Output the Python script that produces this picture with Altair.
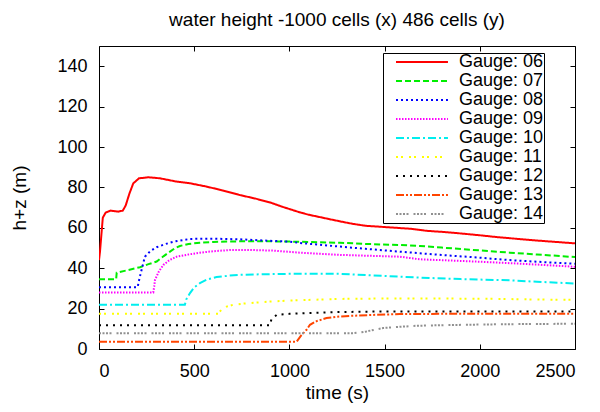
import altair as alt
import pandas as pd

TITLE = "water height -1000 cells (x) 486 cells (y)"
X_TITLE = "time (s)"
Y_TITLE = "h+z (m)"

gauges = ["Gauge: 06", "Gauge: 07", "Gauge: 08", "Gauge: 09", "Gauge: 10",
          "Gauge: 11", "Gauge: 12", "Gauge: 13", "Gauge: 14"]
colors = ["#ff0000", "#00ee00", "#0000ff", "#ff00ff", "#00eeee",
          "#ffff00", "#000000", "#ff4500", "#909090"]
dashes = [[1, 0], [6, 3], [2, 3], [1.5, 1.5], [8, 3, 2, 3],
          [2, 3, 2, 6], [2, 5], [8, 2, 2, 2, 2, 2], [2, 1.5, 2, 1.5, 2, 1.5, 2, 5]]

x_ticks = [0, 500, 1000, 1500, 2000, 2500]
y_ticks = [0, 20, 40, 60, 80, 100, 120, 140]

t06 = [0, 5, 20, 35, 60, 100, 125, 140, 160, 180, 210, 260, 320, 400, 480, 560, 650, 740,
       820, 900, 960, 1010, 1060, 1100, 1150, 1200, 1265, 1330, 1400, 1480, 1560, 1640,
       1720, 1800, 1900, 2000, 2100, 2200, 2300, 2400, 2500]
v06 = [44, 48, 65, 67.5, 68.5, 68, 68.5, 71, 77, 82, 84.5, 85, 84.5, 83, 82, 80.5, 78.5, 76.2,
       74.5, 72.5, 70.5, 69, 67.5, 66.5, 65.5, 64.5, 63.2, 62, 61, 60.5, 60, 59.5,
       58.5, 58, 57.2, 56.3, 55.3, 54.5, 53.7, 53, 52.3]

t07 = [0, 90, 93, 150, 215, 260, 303, 340, 373, 400, 425, 470, 530, 600, 740, 900, 1055,
       1265, 1400, 1580, 1685, 1800, 2000, 2157, 2300, 2500]
v07 = [34.5, 34.5, 37.8, 39, 40.5, 42, 43.3, 46, 48.2, 50, 51, 52, 52.6, 53, 53.3, 53.3, 53.1,
       52.6, 52, 51.5, 51, 50.2, 48.8, 47.7, 46.8, 45.5]

t08 = [0, 203, 208, 215, 241, 270, 303, 350, 390, 478, 600, 740, 1003, 1055, 1265, 1400,
       1580, 1685, 1850, 2000, 2157, 2300, 2500]
v08 = [30.6, 30.6, 33, 35.9, 45.7, 48.5, 50.4, 52, 53.1, 54.5, 54.6, 54.3, 53.1, 52.5, 50.7,
       49.6, 48.2, 47.4, 46.2, 45.2, 44, 43.2, 42.2]

t09 = [0, 285, 290, 294, 315, 338, 370, 408, 470, 530, 600, 688, 800, 915, 1055, 1265, 1400,
       1580, 1685, 1850, 2000, 2157, 2300, 2500]
v09 = [28, 28, 31, 34.2, 38.5, 41.6, 44, 45.7, 46.8, 47.7, 48.4, 49, 49, 48.7, 47.7, 46.6,
       46.2, 45.7, 44.4, 43.8, 43.2, 42.5, 41.8, 40.7]

t10 = [0, 451, 458, 478, 500, 530, 570, 618, 680, 740, 850, 1003, 1265, 1400, 1580, 1750,
       1900, 2157, 2300, 2500]
v10 = [21.9, 21.9, 24.5, 27.7, 30.5, 32.6, 34.5, 35.6, 36.3, 36.7, 37, 37.2, 37.2, 36.6,
       35.8, 35.1, 34.6, 34, 33.3, 32.4]

t11 = [0, 626, 635, 644, 670, 705, 760, 828, 900, 1003, 1265, 1500, 1800, 2100, 2300, 2500]
v11 = [17.4, 17.4, 18.5, 19.8, 21, 21.9, 22.5, 23, 23.5, 24, 24.8, 25, 25, 24.8, 24.5, 24.3]

t12 = [0, 898, 902, 906, 933, 1000, 1090, 1265, 1500, 2000, 2500]
v12 = [11.7, 11.7, 13.5, 14.8, 16.9, 17.4, 17.8, 18.3, 18.6, 18.6, 18.5]

t13 = [0, 1038, 1060, 1090, 1108, 1143, 1195, 1265, 1318, 1450, 1580, 1800, 2157, 2500]
v13 = [3.6, 3.6, 6.5, 9.5, 12, 13.8, 15.3, 16.1, 16.4, 16.9, 17.3, 17.4, 17.4, 17.4]

t14 = [0, 1335, 1370, 1405, 1450, 1493, 1580, 1668, 1800, 1930, 2157, 2500]
v14 = [7.8, 7.8, 8.2, 8.7, 9.6, 10.4, 11, 11.5, 11.8, 12, 12.3, 12.5]

series = [(t06, v06), (t07, v07), (t08, v08), (t09, v09), (t10, v10),
          (t11, v11), (t12, v12), (t13, v13), (t14, v14)]

rows = []
for g, (ts, vs) in zip(gauges, series):
    for i, (t, v) in enumerate(zip(ts, vs)):
        rows.append({"gauge": g, "t": t, "v": v, "i": i})
df = pd.DataFrame(rows)

FONT = "Liberation Sans"

xscale = alt.Scale(domain=[0, 2500], nice=False, zero=False)
yscale = alt.Scale(domain=[0, 150], nice=False)

common_axis = dict(
    domainColor="black", domainWidth=1, ticks=False,
    grid=True, gridColor="black", gridOpacity=1, gridWidth=1, gridDash=[5, 2000],
    labelFont=FONT, labelFontSize=18, labelColor="black", format="d",
    titleFont=FONT, titleFontSize=19, titleFontWeight="normal", titleColor="black",
)
mirror_axis = {k: v for k, v in common_axis.items() if not k.startswith("title")}

legend = alt.Legend(
    orient="none", legendX=284, legendY=7, title=None,
    symbolType="M0,0H10", symbolSize=108, symbolStrokeWidth=2,
    symbolOffset=4, labelOffset=54,
    labelFont=FONT, labelFontSize=18, labelColor="black", labelLimit=300,
    labelExpr="datum.label + '  '",
    strokeColor="black", fillColor="white", padding=0, rowPadding=1,
)

lines = alt.Chart(df).mark_line(strokeWidth=2, clip=True).encode(
    x=alt.X("t:Q", scale=xscale,
            axis=alt.Axis(orient="bottom", values=x_ticks, title=X_TITLE,
                          labelPadding=13, titlePadding=3, **common_axis)),
    y=alt.Y("v:Q", scale=yscale,
            axis=alt.Axis(orient="left", values=y_ticks, title=Y_TITLE,
                          labelPadding=12, titlePadding=27, **common_axis)),
    color=alt.Color("gauge:N", scale=alt.Scale(domain=gauges, range=colors), legend=legend),
    strokeDash=alt.StrokeDash("gauge:N", scale=alt.Scale(domain=gauges, range=dashes), legend=legend),
    order="i:Q",
)

mirror = alt.Chart(df).mark_point(opacity=0).encode(
    x=alt.X("t:Q", scale=xscale,
            axis=alt.Axis(orient="top", values=x_ticks, title=None, labels=False, **mirror_axis)),
    y=alt.Y("v:Q", scale=yscale,
            axis=alt.Axis(orient="right", values=y_ticks, title=None, labels=False, **mirror_axis)),
)

chart = alt.layer(lines, mirror).resolve_axis(x="independent", y="independent").properties(
    width=476, height=303,
    title=alt.TitleParams(TITLE, font=FONT, fontSize=19, fontWeight="normal", color="black",
                          anchor="middle", offset=16),
    autosize=alt.AutoSizeParams(type="none"),
    padding={"left": 91, "top": 38, "right": 17, "bottom": 60},
).configure_view(stroke=None)

chart.save("out.html", embed_options={"renderer": "svg", "actions": False})
